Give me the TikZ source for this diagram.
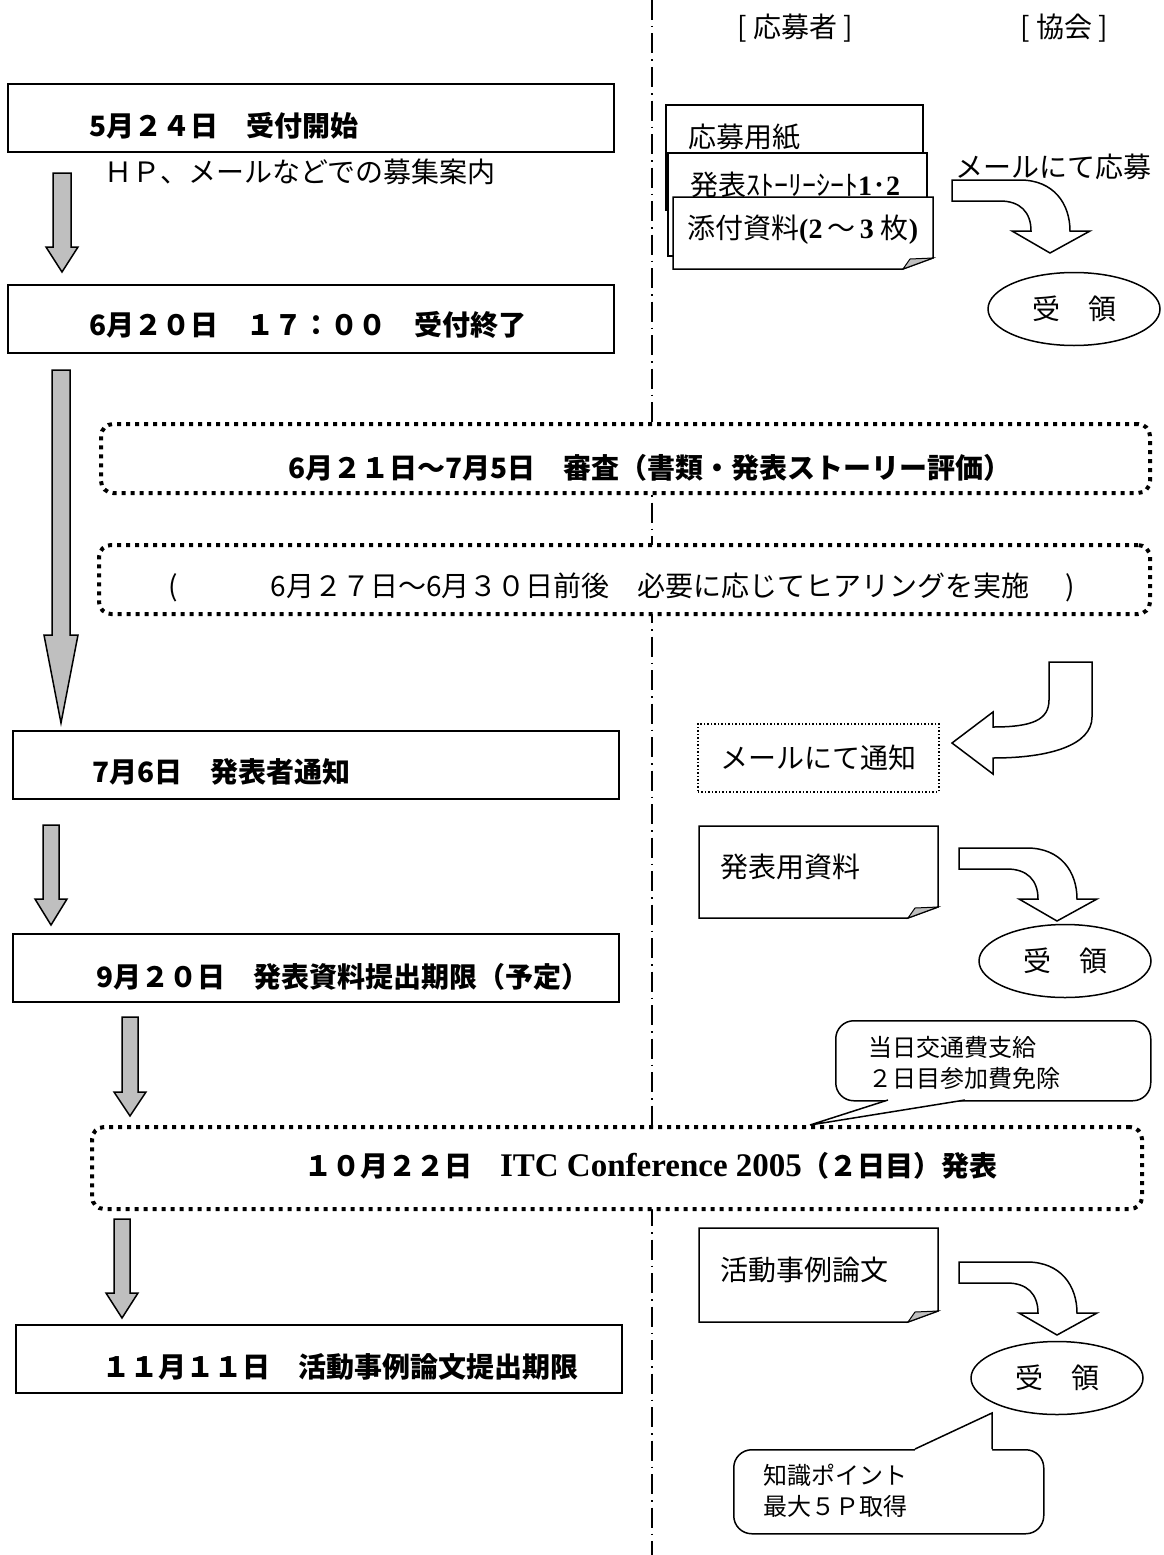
\documentclass[tikz,border=0pt]{standalone}
\usepackage{fontspec}
\setmainfont{Noto Sans CJK JP}
\newfontfamily\latinserif{Liberation Serif}
\usepackage{tikz}
\usetikzlibrary{calc,shapes.geometric}

\newcommand\bigtext{\fontsize{28}{34}\selectfont}
\newcommand\smalltext{\fontsize{24}{31}\selectfont}

% gray block arrow: top, tip, half shaft, half head, head length
\newcommand\grayarrow[5]{%
  \draw[grayarr] ($(#1)+(-#3,0)$) -- ($(#1)+(#3,0)$) -- ($(#2)+(#3,-#5)$)
    -- ($(#2)+(#4,-#5)$) -- (#2) -- ($(#2)+(-#4,-#5)$) -- ($(#2)+(-#3,-#5)$) -- cycle;}
% white arrow bending down, from its top left corner
\newcommand\bentarrow[1]{%
  \draw[bentarr,shift={(#1)}] (0,0) -- (68,0) .. controls (102,0) and (118,24) .. (118,51)
    -- (138,51) -- (98,73) -- (60,51) -- (79,51) .. controls (79,32) and (68,21) .. (48,21)
    -- (0,21) -- cycle;}
% sheet of paper with folded corner
\newcommand\docsheet[4]{%
  \draw[sheet] (#1,#2) -- (#3,#2) -- (#3,#4-11) -- (#3-30,#4) -- (#1,#4) -- cycle;
  \draw[fold] (#3-30,#4) -- (#3-23,#4-10) -- (#3,#4-11) -- cycle;}

\tikzset{
  datebox/.style={draw=black,line width=1.5,fill=white,anchor=north west,
    minimum width=606,minimum height=68,inner sep=0},
  dotbox/.style={draw=black,line width=4,dash pattern=on 4pt off 5pt,
    rounded corners=12,fill=white,anchor=north west,inner sep=0},
  grayarr/.style={draw=black,line width=1.5,fill=black!25},
  bentarr/.style={draw=black,line width=1.5,fill=white},
  sheet/.style={draw=black,line width=1.5,fill=white},
  fold/.style={draw=black,line width=1,fill=black!25},
  receipt/.style={shape=ellipse,draw=black,line width=1.5,fill=white,
    minimum width=172,minimum height=73,inner sep=0,font=\bigtext},
  callbox/.style={draw=black,line width=1.5,rounded corners=18,fill=white,
    anchor=north west,inner sep=0},
  divider/.style={draw=black,line width=1.5,dash pattern=on 20pt off 6pt on 1.5pt off 6pt}
}

\begin{document}
\begin{tikzpicture}[x=1pt,y=-1pt]
    \useasboundingbox (0,0) rectangle (1163,1555);
    \fill[white] (0,0) rectangle (1163,1555);

    % line between timeline and the two parties
    \draw[divider] (652,0) -- (652,1555);

    \node[font=\bigtext] (hdrapp) at (795,28) {[ 応募者 ]};
    \node[font=\bigtext] (hdrassoc) at (1064,28) {[ 協会 ]};

    % timeline
    \begin{scope}[every node/.style={datebox}]
        \node (b1) at (7,83) {};
        \node (b2) at (7,284) {};
        \node (b3) at (12,730) {};
        \node (b4) at (12,933) {};
        \node (b5) at (15,1324) {};
    \end{scope}
    \node[dotbox,minimum width=1049,minimum height=69] (d1) at (99,422) {};
    \node[dotbox,minimum width=1051,minimum height=69] (d2) at (97,543) {};
    \node[dotbox,minimum width=1050,minimum height=82] (d3) at (90,1125) {};

    \begin{scope}[every node/.style={font=\bigtext\bfseries,anchor=west,inner sep=0}]
        \node (t1) at (89,126) {5月２４日　受付開始};
        \node (t2) at (89,325) {6月２０日　１７：００　受付終了};
        \node (t3) at (92,772) {7月6日　発表者通知};
        \node (t4) at (96,977) {9月２０日　発表資料提出期限（予定）};
        \node (t5) at (102,1367) {１１月１１日　活動事例論文提出期限};
        \node[anchor=center] (dt1) at (650,468) {6月２１日～7月5日　審査（書類・発表ストーリー評価）};
        \node[anchor=center] (dt3) at (651,1166)
            {１０月２２日　{\latinserif\fontsize{33}{36}\selectfont ITC Conference 2005}（２日目）発表};
    \end{scope}
    \node[font=\bigtext,anchor=west,inner sep=0] (hp) at (104,172) {ＨＰ、メールなどでの募集案内};
    \node[font=\bigtext,inner sep=0] (dt2) at (622,587)
        {(\hspace{92pt}6月２７日～6月３０日前後　必要に応じてヒアリングを実施\hspace{36pt})};

    \coordinate (a1top) at (62,173);   \coordinate (a1tip) at (62,272);
    \coordinate (a2top) at (61,370);   \coordinate (a2tip) at (61,723);
    \coordinate (a3top) at (51,825);   \coordinate (a3tip) at (51,925);
    \coordinate (a4top) at (130,1017); \coordinate (a4tip) at (130,1116);
    \coordinate (a5top) at (122,1219); \coordinate (a5tip) at (122,1318);
    \grayarrow{a1top}{a1tip}{9}{16}{25}
    \grayarrow{a2top}{a2tip}{9}{17}{88}
    \grayarrow{a3top}{a3tip}{8}{16}{26}
    \grayarrow{a4top}{a4tip}{8}{16}{24}
    \grayarrow{a5top}{a5tip}{8}{16}{25}

    % applicant / association
    \draw[sheet] (666,105) rectangle (923,210);
    \draw[sheet] (668,153) rectangle (927,256);
    \docsheet{673}{197}{933}{269}
    \begin{scope}[every node/.style={font=\bigtext,anchor=west,inner sep=0}]
        \node (form) at (688,137) {応募用紙};
        \node (story) at (690,185) {発表ｽﾄｰﾘｰｼｰﾄ{\latinserif\bfseries 1}･{\latinserif\bfseries 2}};
        \node (attach) at (687,230) {添付資料{\latinserif\bfseries (2\,}～{\latinserif\bfseries \,3 }枚{\latinserif\bfseries )}};
        \node (bymail) at (955,167) {メールにて応募};
    \end{scope}
    \bentarrow{952,180}
    \node[receipt] (e1) at (1074,309) {受　領};

    \draw[bentarr] (1049,662) -- (1092,662) -- (1092,717) .. controls (1092,745) and (1050,758) .. (993,758)
        -- (993,774) -- (952,743) -- (993,712) -- (993,727) .. controls (1032,727) and (1049,720) .. (1049,700) -- cycle;
    \node[draw=black,line width=1.5,dash pattern=on 1.5pt off 2pt,minimum width=241,minimum height=68,
        anchor=north west,inner sep=0,font=\bigtext] (notice) at (697,723) {メールにて通知};

    \docsheet{699}{826}{938}{918}
    \node[font=\bigtext,anchor=west,inner sep=0] (slides) at (720,867) {発表用資料};
    \bentarrow{959,848}
    \node[receipt] (e2) at (1065,961) {受　領};

    \node[callbox,minimum width=315,minimum height=80] (cb1) at (835,1020) {};
    \fill[white] (888,1097) -- (965,1097) -- (965,1100) -- (810,1125) -- (888,1100) -- cycle;
    \coordinate (cp1) at (810,1125);
    \draw[line width=1.5] (888,1100) -- (cp1) -- (965,1100);
    \node[font=\smalltext,align=left,anchor=north west,inner sep=0] (perks) at (868,1036)
        {当日交通費支給\\２日目参加費免除};

    \docsheet{699}{1228}{938}{1322}
    \node[font=\bigtext,anchor=west,inner sep=0] (paper) at (720,1270) {活動事例論文};
    \bentarrow{959,1262}
    \node[receipt] (e3) at (1057,1378) {受　領};

    \node[callbox,minimum width=310,minimum height=84] (cb2) at (733,1449) {};
    \fill[white] (915,1452) -- (992,1452) -- (992,1413) -- (915,1449) -- cycle;
    \coordinate (cp2) at (992,1413);
    \draw[line width=1.5] (915,1449) -- (cp2) -- (992,1449);
    \node[font=\smalltext,align=left,anchor=north west,inner sep=0] (points) at (763,1464)
        {知識ポイント\\最大５Ｐ取得};
\end{tikzpicture}
\end{document}
